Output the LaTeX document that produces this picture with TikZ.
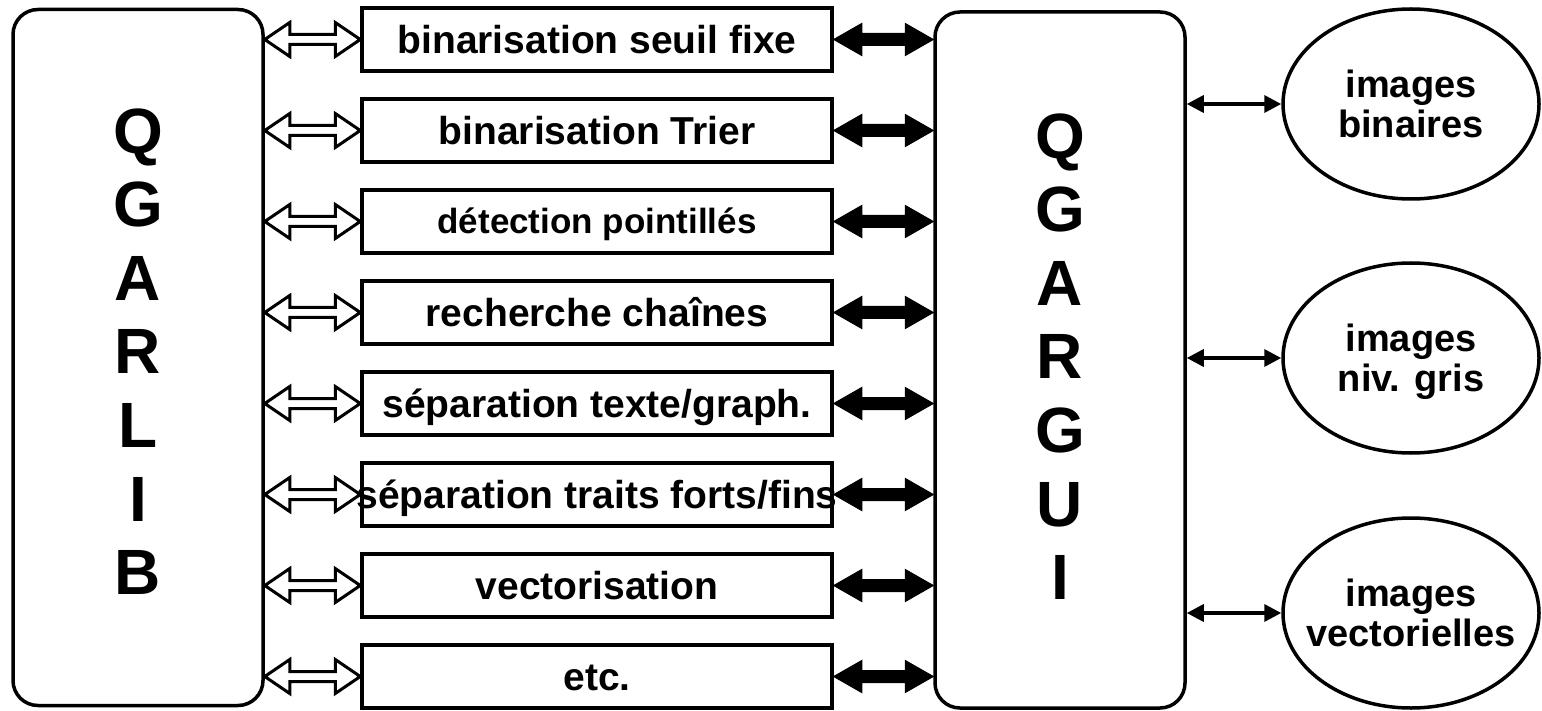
\documentclass[tikz,border=0pt]{standalone}
\usepackage{fontspec}
\setmainfont{Liberation Sans}
\usetikzlibrary{calc,shapes.geometric,arrows.meta}
\pgfdeclarelayer{bg}
\pgfsetlayers{bg,main}
\tikzset{
  bigbox/.style={draw, line width=3.5pt, rounded corners=25pt, minimum width=250pt, minimum height=696pt, inner sep=0pt},
  vletters/.style={font=\fontsize{64}{73.6}\selectfont\bfseries, align=center, text depth=0pt, inner sep=0pt},
  midbox/.style={draw, line width=3.5pt, minimum width=470pt, minimum height=63pt, inner sep=0pt, font=\fontsize{39}{44}\selectfont\bfseries, text height=28pt, text depth=0pt},
  imgell/.style={draw, ellipse, line width=3.5pt, minimum width=256pt, minimum height=190pt, inner sep=0pt},
  imgtxt/.style={align=center, inner sep=0pt, font=\fontsize{38}{40}\selectfont\bfseries, text depth=0pt},
  hollowarr/.style={draw, line width=3pt, fill=white, line join=miter,
    to path={let \p1=(\tikztostart), \p2=(\tikztotarget) in
      -- (\x1+25pt,\y1+17pt) -- (\x1+25pt,\y1+5pt) -- (\x2-25pt,\y1+5pt) -- (\x2-25pt,\y1+17pt) -- (\x2,\y1)
      -- (\x2-25pt,\y1-17pt) -- (\x2-25pt,\y1-5pt) -- (\x1+25pt,\y1-5pt) -- (\x1+25pt,\y1-17pt) -- cycle}},
  solidarr/.style={draw, line width=1pt, fill=black, line join=miter,
    to path={let \p1=(\tikztostart), \p2=(\tikztotarget) in
      -- (\x1+28pt,\y1+16pt) -- (\x1+28pt,\y1+6pt) -- (\x2-28pt,\y1+6pt) -- (\x2-28pt,\y1+16pt) -- (\x2,\y1)
      -- (\x2-28pt,\y1-16pt) -- (\x2-28pt,\y1-6pt) -- (\x1+28pt,\y1-6pt) -- (\x1+28pt,\y1-16pt) -- cycle}},
  thinarr/.style={line width=3.5pt, {Triangle[length=17pt,width=17pt]}-{Triangle[length=17pt,width=17pt]}},
}
\begin{document}
\begin{tikzpicture}[x=1pt,y=-1pt]
\useasboundingbox (0,0) rectangle (1542,711);
% big boxes
\node[bigbox] (L) at (138,357.5) {};
\node[vletters] (Lt) at (138,351.5) {Q\\G\\A\\R\\L\\I\\B};
\node[bigbox] (R) at (1060,360) {};
\node[vletters] (Rt) at (1060,356.5) {Q\\G\\A\\R\\G\\U\\I};
% middle boxes
\node[midbox] (m1) at (597,39.5) {\makebox[0pt]{binarisation seuil fixe}};
\node[midbox] (m2) at (597,130.5) {\makebox[0pt]{binarisation Trier}};
\node[midbox, font=\fontsize{35}{40}\selectfont\bfseries, text height=25pt] (m3) at (597,221.5) {\makebox[0pt]{détection pointillés}};
\node[midbox] (m4) at (597,312.5) {\makebox[0pt]{recherche chaînes}};
\node[midbox] (m5) at (597,403.5) {\makebox[0pt]{séparation texte/graph.}};
\node[midbox] (m6) at (597,494.5) {\makebox[0pt]{séparation traits forts/fins}};
\node[midbox] (m7) at (597,585.5) {\makebox[0pt]{vectorisation}};
\node[midbox] (m8) at (597,676.5) {\makebox[0pt]{etc.}};
% ellipses
\node[imgell] (E1) at (1411,104) {};
\node[imgtxt] (E1t) at (E1) {images\\binaires};
\node[imgell] (E2) at (1411,358) {};
\node[imgtxt] (E2t) at (E2) {images\\niv. gris};
\node[imgell] (E3) at (1411,613) {};
\node[imgtxt] (E3t) at (E3) {images\\vectorielles};
% connectors
\begin{pgfonlayer}{bg}
\foreach \m in {m1,m2,m3,m4,m5,m6,m7,m8}{
  \draw[hollowarr] (L.east |- \m.west) to (\m.west);
  \draw[solidarr] (\m.east) to (R.west |- \m.east);
}
\end{pgfonlayer}
\draw[thinarr] (R.east |- E1.west) -- (E1.west);
\draw[thinarr] (R.east |- E2.west) -- (E2.west);
\draw[thinarr] (R.east |- E3.west) -- (E3.west);
\end{tikzpicture}
\end{document}
